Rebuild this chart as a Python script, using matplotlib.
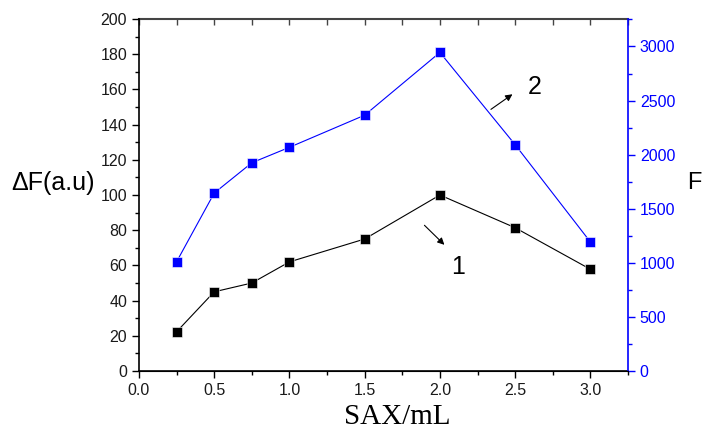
import matplotlib.pyplot as plt
from matplotlib.ticker import MultipleLocator

# SAX volume (mL) and the two responses
sax_ml = [0.25, 0.5, 0.75, 1.0, 1.5, 2.0, 2.5, 3.0]
delta_f = [22.3, 45, 50, 62, 75, 100, 81.4, 57.8]
f_intensity = [1010, 1645, 1925, 2068, 2365, 2945, 2092, 1193]

plt.rcParams['font.family'] = ['Liberation Sans', 'DejaVu Sans']

fig = plt.figure(figsize=(7.03, 4.30), dpi=100)
ax = fig.add_axes([0.1977, 0.1372, 0.6956, 0.8186])
ax2 = ax.twinx()

ax.plot(sax_ml, delta_f, color='black', lw=0.8, marker='s', ms=6.5,
        mec='white', mew=0.4)
ax2.plot(sax_ml, f_intensity, color='blue', lw=0.8, marker='s', ms=6.5,
         mec='white', mew=0.4)

ax.set_xlim(0, 3.25)
ax.set_ylim(0, 200)
ax2.set_ylim(0, 3254)

ax.xaxis.set_major_locator(MultipleLocator(0.5))
ax.xaxis.set_minor_locator(MultipleLocator(0.25))
ax.yaxis.set_major_locator(MultipleLocator(20))
ax.yaxis.set_minor_locator(MultipleLocator(10))
ax2.yaxis.set_major_locator(MultipleLocator(500))
ax2.yaxis.set_minor_locator(MultipleLocator(250))

ax.xaxis.set_major_formatter(plt.FuncFormatter(lambda v, p: f'{v:.1f}'))

ax.tick_params(axis='both', which='major', direction='out', length=5,
               width=1, labelsize=11.5, color='black', labelcolor='#1a1a1a')
ax.tick_params(axis='both', which='minor', direction='out', length=3, width=1)
ax2.tick_params(axis='y', which='major', direction='out', length=5, width=1,
                labelsize=11.5, colors='blue')
ax2.tick_params(axis='y', which='minor', direction='out', length=3, width=1,
                colors='blue')

# ticks along the top edge, pointing inward, no labels
top = ax.secondary_xaxis('top')
top.xaxis.set_major_locator(MultipleLocator(0.25))
top.tick_params(direction='in', length=4, width=1, labeltop=False,
                color='#444444')
top.spines['top'].set_color('#444444')
top.spines['top'].set_linewidth(1.5)

for s in ['left', 'bottom']:
    ax.spines[s].set_linewidth(1.2)
ax.spines['top'].set_visible(False)
ax2.spines['right'].set_color('blue')
ax2.spines['right'].set_linewidth(1.2)
ax2.spines['left'].set_visible(False)
ax2.spines['top'].set_visible(False)
ax.spines['right'].set_visible(False)

fig.text(0.016, 0.575, 'ΔF(a.u)', fontsize=18, va='center', ha='left')
fig.text(0.988, 0.574, 'F', fontsize=17, va='center', ha='center')
fig.text(0.565, 0.014, 'SAX/mL', fontsize=21, va='baseline', ha='center',
         family=['Liberation Serif', 'DejaVu Serif'])

# curve labels with arrows
ax2.annotate('', xy=(2.497, 2573), xytext=(2.324, 2404),
             arrowprops=dict(arrowstyle='-|>', color='black', lw=0.8,
                             mutation_scale=10))
ax2.text(2.63, 2630, '2', fontsize=18, ha='center', va='center')
ax.annotate('', xy=(2.043, 70.6), xytext=(1.884, 83.9),
            arrowprops=dict(arrowstyle='-|>', color='black', lw=0.8,
                            mutation_scale=10))
ax.text(2.12, 59, '1', fontsize=18, ha='center', va='center')

fig.savefig('out.png', dpi=100)
